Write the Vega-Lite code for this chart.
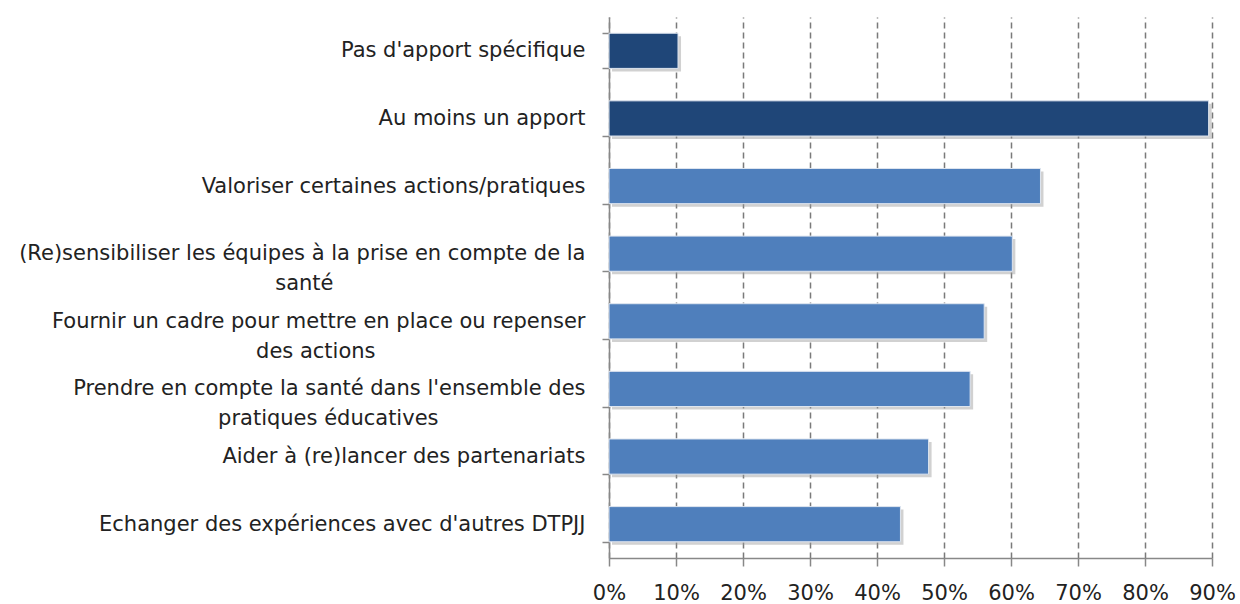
{
  "$schema": "https://vega.github.io/schema/vega-lite/v6.json",
  "autosize": "none",
  "padding": {"left": 609, "top": 17, "right": 28, "bottom": 46},
  "width": 603,
  "height": 541,
  "background": "white",
  "data": {
    "values": [
      {"apport": "Pas d'apport spécifique", "part": 0.103, "groupe": "synthese"},
      {"apport": "Au moins un apport", "part": 0.895, "groupe": "synthese"},
      {"apport": "Valoriser certaines actions/pratiques", "part": 0.644, "groupe": "detail"},
      {"apport": "(Re)sensibiliser les équipes à la prise en compte de la santé", "part": 0.602, "groupe": "detail"},
      {"apport": "Fournir un cadre pour mettre en place ou repenser des actions", "part": 0.56, "groupe": "detail"},
      {"apport": "Prendre en compte la santé dans l'ensemble des pratiques éducatives", "part": 0.539, "groupe": "detail"},
      {"apport": "Aider à (re)lancer des partenariats", "part": 0.477, "groupe": "detail"},
      {"apport": "Echanger des expériences avec d'autres DTPJJ", "part": 0.435, "groupe": "detail"}
    ]
  },
  "encoding": {
    "y": {
      "field": "apport",
      "type": "nominal",
      "sort": null,
      "scale": {"paddingInner": 0.48, "paddingOuter": 0.24},
      "axis": {
        "title": null,
        "domainColor": "#888888",
        "domainWidth": 1.5,
        "tickColor": "#888888",
        "tickWidth": 1.5,
        "tickSize": 7,
        "tickBand": "extent",
        "labelFont": "DejaVu Sans",
        "labelFontSize": 21,
        "labelColor": "#222222",
        "labelPadding": 17,
        "labelLimit": 0,
        "labelLineHeight": 30,
        "labelExpr": "datum.value == '(Re)sensibiliser les équipes à la prise en compte de la santé' ? ['(Re)sensibiliser les équipes à la prise en compte de la', 'santé\u2003\u2003\u2003\u2003\u2003\u2003\u2003\u2003\u2003\u2003\u2003\u2003\u2060'] : datum.value == 'Fournir un cadre pour mettre en place ou repenser des actions' ? ['Fournir un cadre pour mettre en place ou repenser', 'des actions\u2003\u2003\u2003\u2003\u2003\u2003\u2003\u2003\u2003\u2003\u2060'] : datum.value == \"Prendre en compte la santé dans l'ensemble des pratiques éducatives\" ? [\"Prendre en compte la santé dans l'ensemble des\", 'pratiques éducatives\u2003\u2003\u2003\u2003\u2003\u2003\u2003\u2060'] : datum.value"
      }
    },
    "x": {
      "field": "part",
      "type": "quantitative",
      "scale": {"domain": [0, 0.9], "nice": false},
      "axis": {
        "title": null,
        "format": ".0%",
        "values": [0, 0.1, 0.2, 0.3, 0.4, 0.5, 0.6, 0.7, 0.8, 0.9],
        "domainColor": "#888888",
        "domainWidth": 1.5,
        "tickColor": "#888888",
        "tickWidth": 1.5,
        "tickSize": 8,
        "labelFont": "DejaVu Sans",
        "labelFontSize": 21,
        "labelColor": "#222222",
        "labelPadding": 16,
        "labelFlush": false,
        "grid": true,
        "gridColor": "#7a7a7a",
        "gridWidth": 1.5,
        "gridDash": [6, 4]
      }
    }
  },
  "layer": [
    {
      "mark": {"type": "bar", "color": "#9a9a9a", "opacity": 0.45, "xOffset": 3, "yOffset": 3}
    },
    {
      "mark": {"type": "bar", "stroke": "#dfe6f0", "strokeWidth": 1},
      "encoding": {
        "color": {
          "field": "groupe",
          "type": "nominal",
          "scale": {"domain": ["synthese", "detail"], "range": ["#1f4678", "#4f7fbc"]},
          "legend": null
        }
      }
    }
  ],
  "config": {"view": {"stroke": null}}
}
